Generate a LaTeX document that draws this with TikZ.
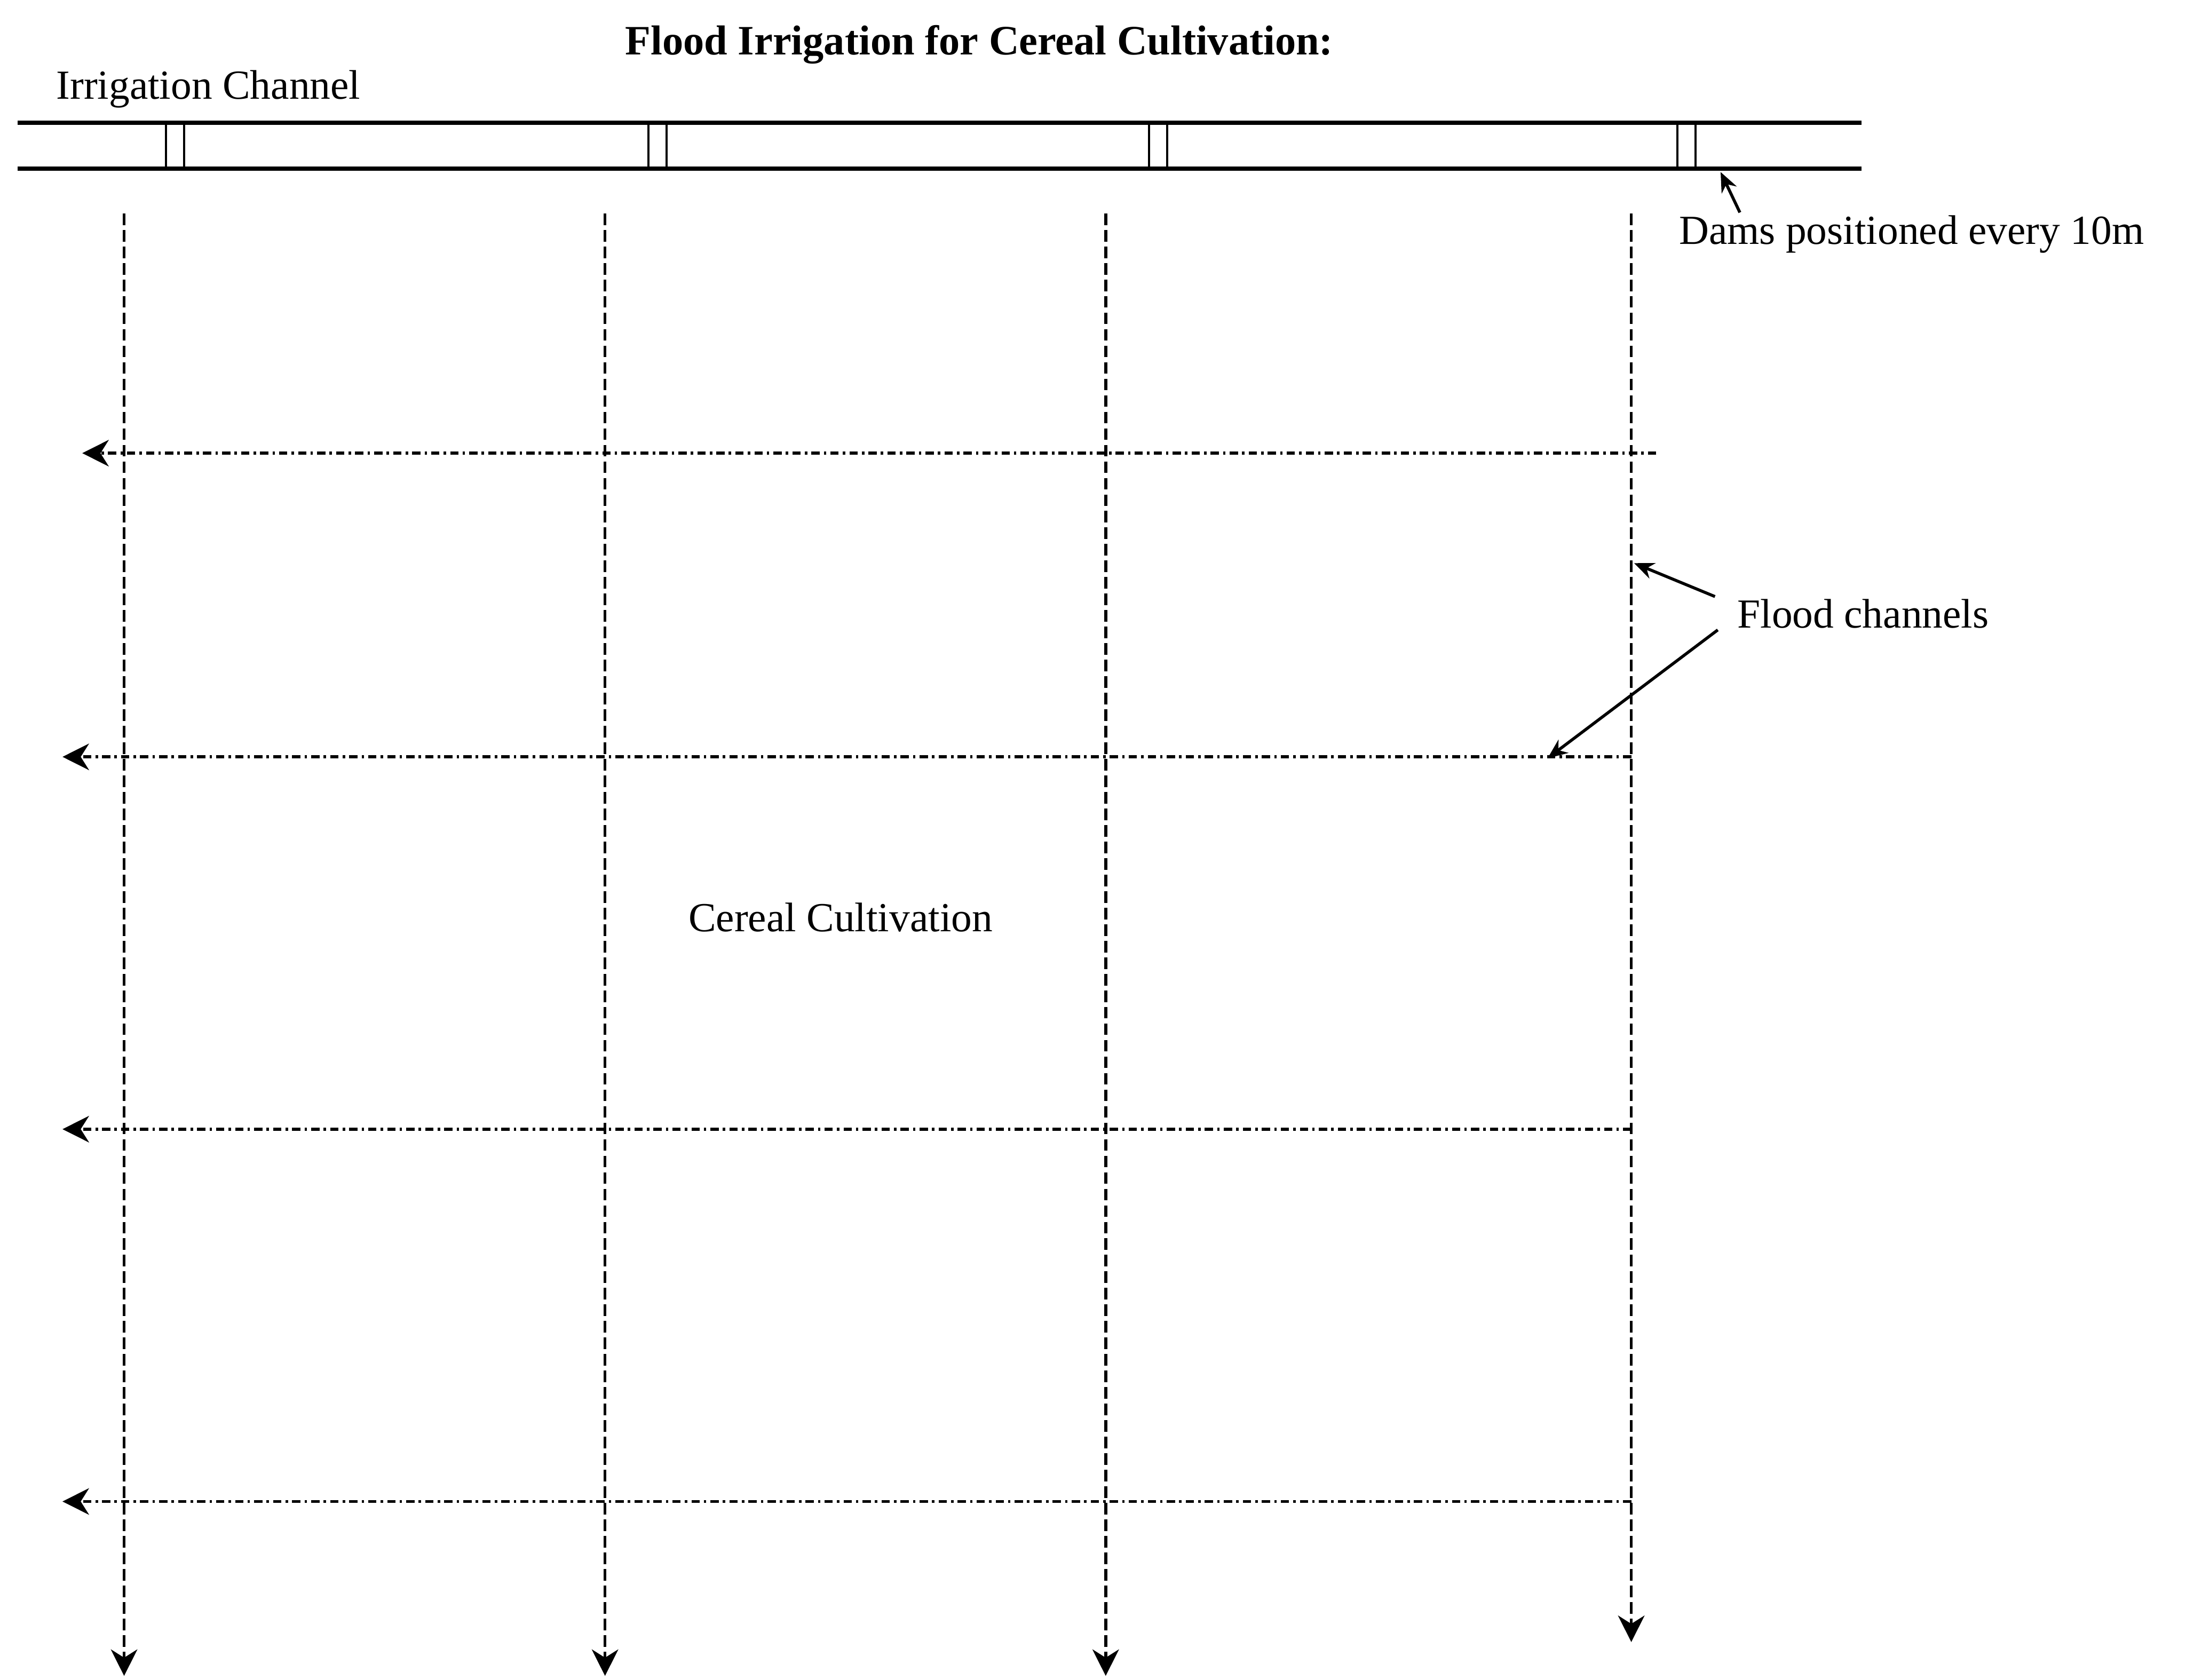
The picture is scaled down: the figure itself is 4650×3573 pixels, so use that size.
\documentclass[tikz,border=0pt]{standalone}
\usepackage{fontspec}
\setmainfont{Liberation Serif}
\usetikzlibrary{arrows.meta}
\begin{document}
\begin{tikzpicture}[x=0.01cm,y=-0.01cm,
  chan/.style={line width=2.6pt},
  dam/.style={line width=1.2pt},
  vflow/.style={line width=1.8pt, dash pattern=on 7pt off 3pt,
    -{Stealth[length=16pt,width=16pt,inset=5pt]}},
  hflow/.style={line width=1.8pt, dash pattern=on 5pt off 2.5pt on 1.5pt off 2.5pt,
    -{Stealth[length=16pt,width=16pt,inset=5pt]}},
  callout/.style={line width=1.8pt, -{Stealth[length=12pt,width=10pt]}},
  lbl/.style={font=\fontsize{25}{29}\selectfont, inner sep=0pt},
  ttl/.style={font=\fontsize{25.3}{30}\selectfont\bfseries, inner sep=0pt},
]
\useasboundingbox (0,0) rectangle (4650,3573);

% title and labels
\node[ttl] (title) at (2083,95) {Flood Irrigation for Cereal Cultivation:};
\node[lbl, anchor=west] (chanlbl) at (119,190) {Irrigation Channel};
\node[lbl, anchor=west] (damlbl) at (3571,498) {Dams positioned every 10m};
\node[lbl, anchor=west] (floodlbl) at (3695,1305) {Flood channels};
\node[lbl] (cereal) at (1788,1951) {Cereal Cultivation};

% irrigation channel
\coordinate (cTL) at (38,261);
\coordinate (cTR) at (3960,261);
\coordinate (cBL) at (38,359);
\coordinate (cBR) at (3960,359);
\draw[chan] (cTL) -- (cTR);
\draw[chan] (cBL) -- (cBR);

% dams
\foreach \x in {353,1379,2444,3568} {
  \draw[dam] (\x,261) -- (\x,359);
  \draw[dam] (\x+39,261) -- (\x+39,359);
}

% vertical flood channels
\coordinate (v1t) at (264,454);  \coordinate (v1b) at (264,3565);
\coordinate (v2t) at (1287,454); \coordinate (v2b) at (1287,3565);
\coordinate (v3t) at (2352,454); \coordinate (v3b) at (2352,3565);
\coordinate (v4t) at (3470,454); \coordinate (v4b) at (3470,3493);
\draw[vflow] (v1t) -- (v1b);
\draw[vflow] (v2t) -- (v2b);
\draw[vflow] (v3t) -- (v3b);
\draw[vflow] (v4t) -- (v4b);

% horizontal flood channels
\coordinate (h1r) at (3523,964);  \coordinate (h1l) at (175,964);
\coordinate (h2r) at (3470,1610); \coordinate (h2l) at (133,1610);
\coordinate (h3r) at (3470,2402); \coordinate (h3l) at (133,2402);
\coordinate (h4r) at (3470,3194); \coordinate (h4l) at (133,3194);
\draw[hflow] (h1r) -- (h1l);
\draw[hflow] (h2r) -- (h2l);
\draw[hflow] (h3r) -- (h3l);
\draw[hflow] (h4r) -- (h4l);

% callouts
\coordinate (damtail) at (3701,452);
\coordinate (damtip) at (3660,366);
\draw[callout] (damtail) -- (damtip);
\coordinate (f1tail) at (3648,1269);
\coordinate (f1tip) at (3476,1198);
\coordinate (f2tail) at (3654,1340);
\coordinate (f2tip) at (3292,1613);
\draw[callout] (f1tail) -- (f1tip);
\draw[callout] (f2tail) -- (f2tip);
\end{tikzpicture}
\end{document}
